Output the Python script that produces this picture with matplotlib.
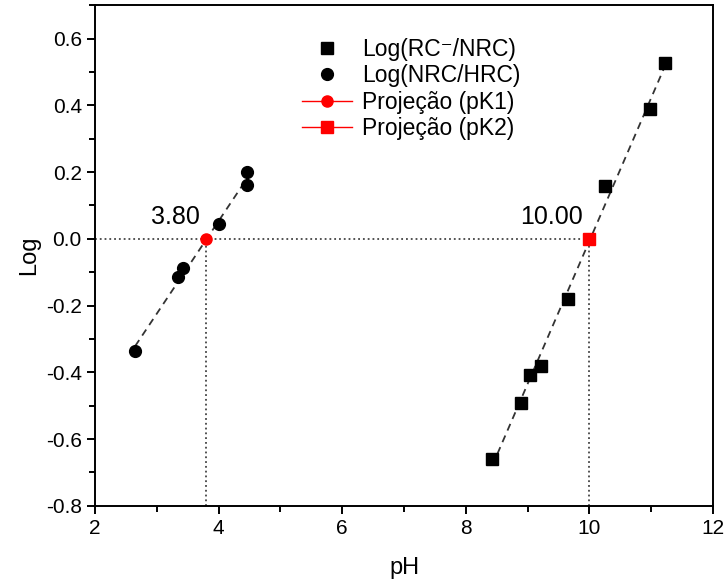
import numpy as np
import matplotlib.pyplot as plt
from matplotlib.ticker import MultipleLocator

plt.rcParams['font.family'] = ['Liberation Sans', 'DejaVu Sans']

# dados
ph_nrc = [2.65, 3.35, 3.43, 4.01, 4.46, 4.46]
log_nrc = [-0.336, -0.114, -0.088, 0.044, 0.160, 0.199]

ph_rc = [8.43, 8.89, 9.03, 9.21, 9.65, 10.25, 10.98, 11.23]
log_rc = [-0.660, -0.492, -0.407, -0.381, -0.180, 0.159, 0.389, 0.526]

pk1 = 3.80
pk2 = 10.00

fig = plt.figure(figsize=(7.28, 5.82), dpi=100)
ax = fig.add_axes([0.1305, 0.131, 0.849, 0.860])

# retas de ajuste
for xs, ys in [(ph_nrc, log_nrc), (ph_rc, log_rc)]:
    a, b = np.polyfit(xs, ys, 1)
    xx = np.array([min(xs), max(xs)])
    ax.plot(xx, a * xx + b, '--', color='#333333', lw=1.3, dashes=(4, 3), zorder=2)

# linhas de projecao
ax.plot([2, pk2], [0, 0], ':', color='#444444', lw=1.3, zorder=1)
ax.plot([pk1, pk1], [-0.8, 0], ':', color='#444444', lw=1.3, zorder=1)
ax.plot([pk2, pk2], [-0.8, 0], ':', color='#444444', lw=1.3, zorder=1)

ax.plot(ph_rc, log_rc, 's', color='black', ms=8, ls='none', label='Log(RC\u207b/NRC)', zorder=3)
ax.plot(ph_nrc, log_nrc, 'o', color='black', ms=8.5, ls='none', label='Log(NRC/HRC)', zorder=3)
ax.plot([pk1], [0], 'o-', color='red', ms=8, lw=1, label='Projeção (pK1)', zorder=4)
ax.plot([pk2], [0], 's-', color='red', ms=8, lw=1, label='Projeção (pK2)', zorder=4)

ax.text(pk1 - 0.1, 0.03, '%.2f' % pk1, fontsize=18, ha='right', va='bottom')
ax.text(pk2 - 0.1, 0.03, '%.2f' % pk2, fontsize=18, ha='right', va='bottom')

ax.set_xlim(2, 12)
ax.set_ylim(-0.8, 0.7)
ax.xaxis.set_major_locator(MultipleLocator(2))
ax.xaxis.set_minor_locator(MultipleLocator(1))
ax.yaxis.set_minor_locator(MultipleLocator(0.1))
ax.set_yticks(np.arange(-0.8, 0.61, 0.2))
ax.yaxis.set_major_formatter(plt.FuncFormatter(lambda v, p: '%.1f' % (0.0 if abs(v) < 1e-9 else v)))
ax.tick_params(which='major', direction='out', length=6, width=1.4, labelsize=15)
ax.tick_params(which='minor', direction='out', length=4, width=1.4)
for s in ax.spines.values():
    s.set_linewidth(1.4)

ax.set_xlabel('pH', fontsize=17, labelpad=14)
ax.set_ylabel('Log', fontsize=17, labelpad=4)

ax.legend(loc='upper left', bbox_to_anchor=(0.335, 0.935), frameon=False, fontsize=16.5,
          handlelength=2.2, labelspacing=0.15, handletextpad=0.4,
          borderpad=0, borderaxespad=0)

fig.savefig('out.png', dpi=100)
